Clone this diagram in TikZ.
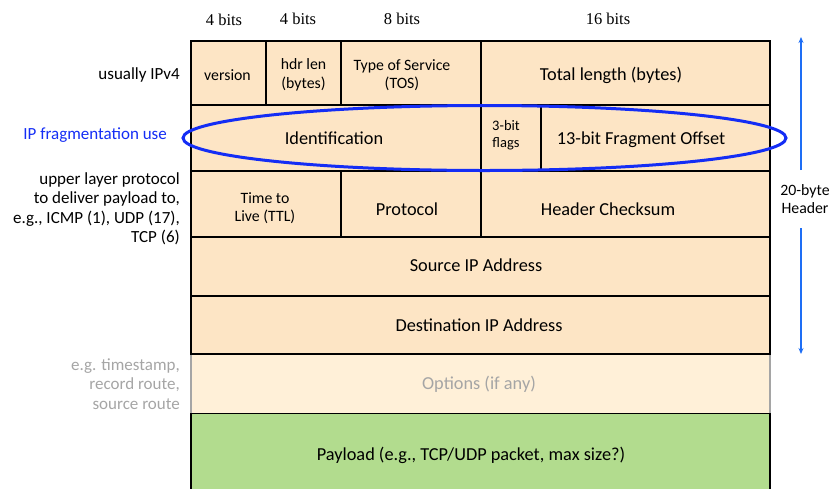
\documentclass[tikz,border=0pt]{standalone}
\usepackage{fontspec}
\setmainfont{Carlito}
\newfontfamily\bitsfont{Liberation Serif}
\usetikzlibrary{arrows.meta}
\definecolor{hdrfill}{RGB}{253,229,197}
\definecolor{optfill}{RGB}{255,240,216}
\definecolor{payfill}{RGB}{178,220,142}
\definecolor{fragblue}{RGB}{20,45,245}
\definecolor{arrowblue}{RGB}{30,110,245}
\definecolor{optgray}{RGB}{165,165,165}
\tikzset{
  field/.style={draw=black, line width=2.2pt, fill=hdrfill},
  lbl/.style={font=\fontsize{18.3}{20}\selectfont, align=center, inner sep=0pt},
  small/.style={font=\fontsize{15.8}{18.5}\selectfont, align=center, inner sep=0pt},
  bits/.style={font=\bitsfont\fontsize{16.5}{18}\selectfont, inner sep=0pt},
  side/.style={font=\fontsize{17}{19.5}\selectfont, align=right, anchor=east, inner sep=0pt},
}
\begin{document}
\begin{tikzpicture}[x=1pt, y=-1pt]
\useasboundingbox (0,0) rectangle (832,488);

% bit widths above the first row
\node[bits] (b1) at (224,20) {4 bits};
\node[bits] (b2) at (298,19) {4 bits};
\node[bits] (b3) at (402,19) {8 bits};
\node[bits] (b4) at (608,19) {16 bits};

% payload (runs off the bottom edge)
\fill[payfill] (191,413) rectangle (770,492);
\draw[black, line width=2.2pt] (191,492) -- (191,413) -- (770,413) -- (770,492);
\node[lbl] (pay) at (471,455) {Payload (e.g., TCP/UDP packet, max size?)};

% options row
\fill[optfill] (191,354) rectangle (770,413);
\draw[optgray, line width=1.6pt] (191,354) -- (191,413) (770,354) -- (770,413);
\node[lbl, text=optgray] (opt) at (479,384) {Options (if any)};

% header rows
\draw[field] (191,41) rectangle (770,354);
\draw[black, line width=2.2pt]
  (191,105) -- (770,105)
  (191,171) -- (770,171)
  (191,237) -- (770,237)
  (191,296) -- (770,296)
  (191,354) -- (770,354)
  (266,41) -- (266,105)
  (341,41) -- (341,105)
  (481,41) -- (481,105)
  (481,105) -- (481,171)
  (541,105) -- (541,171)
  (341,171) -- (341,237)
  (481,171) -- (481,237);

% row 1
\node[small] (ver) at (227.5,75) {version};
\node[small] (hlen) at (303.5,75) {hdr len\\(bytes)};
\node[small] (tos) at (402,75) {Type of Service\\(TOS)};
\node[lbl] (tlen) at (611,75) {Total length (bytes)};
% row 2
\node[lbl] (ident) at (334,138) {Identification};
\node[small, font=\fontsize{14.5}{17}\selectfont] (flags) at (506,135) {3-bit\\flags};
\node[lbl] (foff) at (641,140) {13-bit Fragment Offset};
% row 3
\node[small] (ttl) at (265,208) {Time to\\Live (TTL)};
\node[lbl] (proto) at (407,209) {Protocol};
\node[lbl] (csum) at (608,209) {Header Checksum};
% rows 4 and 5
\node[lbl] (src) at (476,265) {Source IP Address};
\node[lbl] (dst) at (479,325) {Destination IP Address};

% fragmentation fields ring
\draw[fragblue, line width=3pt] (484.5,138) ellipse [x radius=301.5, y radius=32.5];

% notes on the left
\node[side] (n1) at (180,75) {usually IPv4};
\node[side, text=fragblue] (n2) at (167,135) {IP fragmentation use};
\node[side] (n3) at (180,209) {upper layer protocol\\to deliver payload to,\\e.g., ICMP (1), UDP (17),\\TCP (6)};
\node[side, text=optgray] (n4) at (180,384) {e.g. timestamp,\\record route,\\source route};

% header length marker
\node[small] (hdr) at (805,199) {20-byte\\Header};
\coordinate (atop) at (801,37);
\coordinate (abot) at (801,354);
\draw[arrowblue, line width=1.6pt, -{Stealth[length=6pt,width=5pt]}] (801,170) -- (atop);
\draw[arrowblue, line width=1.6pt, -{Stealth[length=6pt,width=5pt]}] (801,228) -- (abot);
\end{tikzpicture}
\end{document}
